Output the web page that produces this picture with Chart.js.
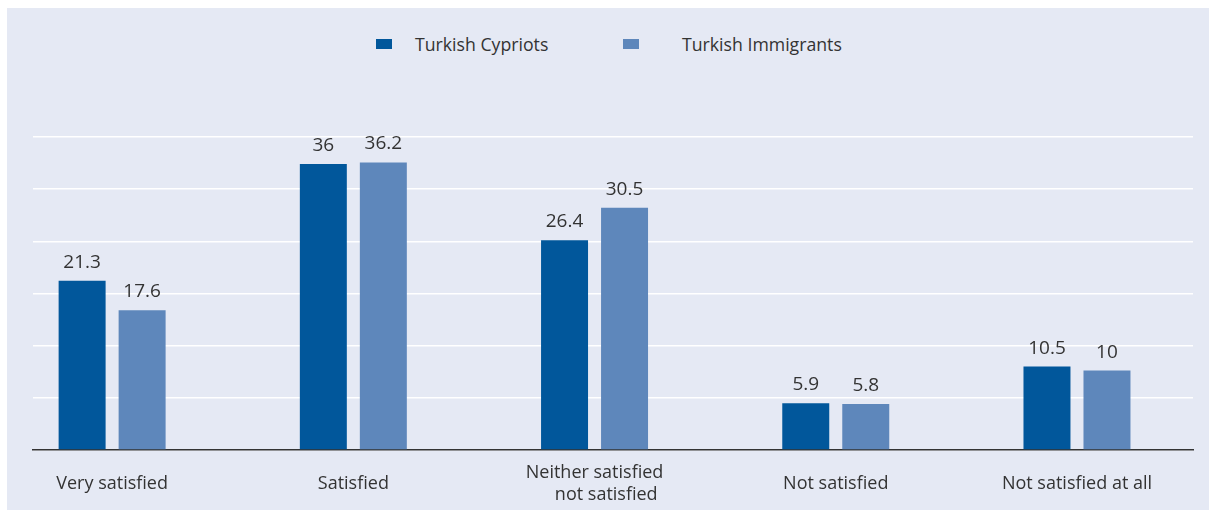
<!DOCTYPE html>
<html>
<head>
<meta charset="utf-8">
<script src="https://cdn.jsdelivr.net/npm/chart.js@4.4.1/dist/chart.umd.min.js"></script>
<style>
  html, body { margin: 0; padding: 0; background: #ffffff; }
  body { width: 1209px; height: 514px; position: relative; overflow: hidden; font-family: "Open Sans", sans-serif; }
  #panel { position: absolute; left: 7px; top: 8px; width: 1202px; height: 502px; background: #e5e9f4; }
  #legend { position: absolute; left: 0; top: 33px; width: 1209px; height: 22px; color: #333333; font-size: 17.7px; }
  .item { position: absolute; top: 0; height: 22px; display: flex; align-items: center; white-space: nowrap; }
  .sw { display: inline-block; width: 16px; height: 10px; }
  #chart { position: absolute; left: 0; top: 0; }
</style>
</head>
<body>
<div id="panel"></div>
<div id="legend"></div>
<canvas id="chart" width="1209" height="514"></canvas>
<script>
// Satisfaction categories (a "\n" splits a label over two lines)
const categories = [
  'Very satisfied',
  'Satisfied',
  'Neither satisfied\n     not satisfied',
  'Not satisfied',
  'Not satisfied at all'
];

// Shares in percent
const turkishCypriots   = [21.3, 36, 26.4, 5.9, 10.5];
const turkishImmigrants = [17.6, 36.2, 30.5, 5.8, 10];

const seriesNames  = ['Turkish Cypriots', 'Turkish Immigrants'];
const seriesColors = ['#01579b', '#5e87bb'];

// Value axis split into six equal bands
const yMax = 39.4;
const yBands = 6;

const textColor = '#333333';
const fontFamily = '"Open Sans", "Noto Sans", sans-serif';

// Legend above the plot
const legendSlots = [
  { left: 376, gap: 23 },
  { left: 623, gap: 43 }
];
const legendEl = document.getElementById('legend');
seriesNames.forEach((name, i) => {
  const item = document.createElement('div');
  item.className = 'item';
  item.style.left = legendSlots[i].left + 'px';
  const sw = document.createElement('span');
  sw.className = 'sw';
  sw.style.background = seriesColors[i];
  sw.style.marginRight = legendSlots[i].gap + 'px';
  const label = document.createElement('span');
  label.textContent = name;
  item.appendChild(sw);
  item.appendChild(label);
  legendEl.appendChild(item);
});

// Writes each bar's value just above it
const valueLabels = {
  id: 'valueLabels',
  afterDatasetsDraw(chart) {
    const ctx = chart.ctx;
    ctx.save();
    ctx.fillStyle = textColor;
    ctx.font = '19px ' + fontFamily;
    ctx.textAlign = 'center';
    ctx.textBaseline = 'alphabetic';
    chart.data.datasets.forEach((ds, di) => {
      chart.getDatasetMeta(di).data.forEach((bar, i) => {
        ctx.fillText(String(ds.data[i].y), bar.x, bar.y - 13);
      });
    });
    ctx.restore();
  }
};

const toPoints = values => values.map((v, i) => ({ x: i, y: v }));

new Chart(document.getElementById('chart'), {
  type: 'bar',
  data: {
    datasets: [
      {
        label: seriesNames[0],
        data: toPoints(turkishCypriots),
        backgroundColor: seriesColors[0],
        categoryPercentage: 0.4975,
        barPercentage: 0.783
      },
      {
        label: seriesNames[1],
        data: toPoints(turkishImmigrants),
        backgroundColor: seriesColors[1],
        categoryPercentage: 0.4975,
        barPercentage: 0.783
      }
    ]
  },
  options: {
    responsive: false,
    animation: false,
    events: [],
    layout: { padding: { left: 33, right: 16, top: 137, bottom: 0 } },
    plugins: {
      legend: { display: false },
      tooltip: { enabled: false }
    },
    scales: {
      x: {
        type: 'linear',
        min: -0.328,
        max: 4.481,
        offset: false,
        z: 1,
        grid: { display: false, drawTicks: false },
        border: { display: true, color: '#333333', width: 1.5 },
        afterBuildTicks: scale => {
          scale.ticks = categories.map((c, i) => ({ value: i }));
        },
        afterFit: scale => { scale.height = 64; },
        ticks: {
          autoSkip: false,
          maxRotation: 0,
          minRotation: 0,
          crossAlign: 'center',
          padding: 23,
          color: textColor,
          font: { family: fontFamily, size: 18 },
          callback: value => categories[value] ? categories[value].split('\n') : ''
        }
      },
      y: {
        min: 0,
        max: yMax,
        grid: { color: '#ffffff', lineWidth: 1.5, drawTicks: false },
        border: { display: false },
        ticks: { display: false, stepSize: yMax / yBands },
        afterFit: scale => { scale.width = 0; }
      }
    }
  },
  plugins: [valueLabels]
});
</script>
</body>
</html>
